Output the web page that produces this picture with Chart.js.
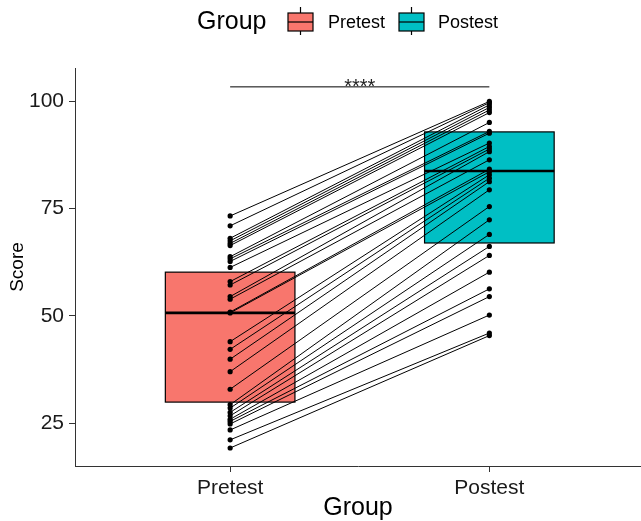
<!DOCTYPE html>
<html>
<head>
<meta charset="utf-8">
<script src="https://cdn.jsdelivr.net/npm/chart.js@4/dist/chart.umd.min.js"></script>
<style>
  body { margin: 0; background: #fff; }
</style>
</head>
<body>
<canvas id="paired" width="641" height="521"></canvas>
<script>
const groups = ['Pretest', 'Postest'];
const groupColors = ['#F8766D', '#00BFC4'];

// paired scores, one entry per subject
const pretest = [73.3, 71.0, 68.1, 67.5, 66.9, 66.4, 63.8, 63.3, 62.7, 61.3, 58.0, 57.2, 54.5, 53.9, 50.9, 50.7,
  44.0, 42.2, 39.9, 37.0, 32.9, 29.3, 28.5, 27.5, 26.7, 25.9, 25.4, 24.8, 23.4, 21.1, 19.2];
const postest = [100.0, 99.7, 99.2, 98.6, 98.0, 97.4, 95.1, 93.0, 92.6, 90.3, 89.5, 88.9, 88.3, 86.4, 84.2, 83.6,
  82.9, 82.1, 81.3, 79.4, 75.5, 72.4, 69.0, 66.2, 64.1, 60.2, 56.3, 54.5, 50.2, 46.0, 45.4];

// box extents as drawn
const boxLower = [29.9, 67.0];
const boxMedian = [50.7, 83.8];
const boxUpper = [60.2, 92.9];

const yTicks = [25, 50, 75, 100];
const sigLabel = '****';
const sigLevel = 103.4;

const font = "'Liberation Sans', Arial, sans-serif";

const pairSets = pretest.map((v, i) => ({
  data: [{x: 1, y: v}, {x: 2, y: postest[i]}],
  borderColor: '#000',
  backgroundColor: '#000',
  borderWidth: 1,
  pointRadius: 2.6,
  pointBorderWidth: 0,
  clip: false
}));

const boxPlugin = {
  id: 'boxes',
  beforeDatasetsDraw(chart) {
    const {ctx, scales: {x, y}} = chart;
    ctx.save();
    groups.forEach((g, i) => {
      const cx = x.getPixelForValue(i + 1);
      const half = x.getPixelForValue(i + 1.25) - cx;
      const top = y.getPixelForValue(boxUpper[i]);
      const bot = y.getPixelForValue(boxLower[i]);
      ctx.fillStyle = groupColors[i];
      ctx.fillRect(cx - half, top, half * 2, bot - top);
      ctx.strokeStyle = '#000';
      ctx.lineWidth = 1.2;
      ctx.strokeRect(cx - half, top, half * 2, bot - top);
      const m = y.getPixelForValue(boxMedian[i]);
      ctx.lineWidth = 2.6;
      ctx.beginPath();
      ctx.moveTo(cx - half, m);
      ctx.lineTo(cx + half, m);
      ctx.stroke();
    });
    ctx.restore();
  },
  afterDatasetsDraw(chart) {
    const {ctx, scales: {x, y}} = chart;
    const yy = y.getPixelForValue(sigLevel);
    const x1 = x.getPixelForValue(1), x2 = x.getPixelForValue(2);
    ctx.save();
    ctx.strokeStyle = '#000';
    ctx.lineWidth = 1;
    ctx.beginPath();
    ctx.moveTo(x1, yy);
    ctx.lineTo(x2, yy);
    ctx.stroke();
    ctx.fillStyle = '#222';
    ctx.font = '20px ' + font;
    ctx.textAlign = 'center';
    ctx.textBaseline = 'alphabetic';
    ctx.fillText(sigLabel, (x1 + x2) / 2, yy + 6);
    ctx.restore();
  }
};

const legendPlugin = {
  id: 'groupLegend',
  afterDraw(chart) {
    const ctx = chart.ctx;
    ctx.save();
    ctx.fillStyle = '#000';
    ctx.textBaseline = 'middle';
    ctx.textAlign = 'left';
    ctx.font = '25px ' + font;
    ctx.fillText('Group', 197, 22);
    const items = [{x: 288, tx: 328}, {x: 399, tx: 438}];
    items.forEach((it, i) => {
      ctx.strokeStyle = '#000';
      ctx.lineWidth = 1.2;
      ctx.beginPath();
      ctx.moveTo(it.x + 12.5, 7);
      ctx.lineTo(it.x + 12.5, 35);
      ctx.stroke();
      ctx.fillStyle = groupColors[i];
      ctx.fillRect(it.x, 13, 25, 18);
      ctx.strokeRect(it.x, 13, 25, 18);
      ctx.beginPath();
      ctx.moveTo(it.x, 22);
      ctx.lineTo(it.x + 25, 22);
      ctx.stroke();
      ctx.fillStyle = '#000';
      ctx.font = '18px ' + font;
      ctx.fillText(groups[i], it.tx, 23);
    });
    ctx.restore();
  }
};

new Chart('paired', {
  type: 'line',
  data: { datasets: pairSets },
  options: {
    responsive: false,
    animation: false,
    layout: { autoPadding: false, padding: { top: 68, right: 0, left: 0, bottom: 0 } },
    plugins: {
      legend: { display: false },
      tooltip: { enabled: false }
    },
    scales: {
      x: {
        type: 'linear',
        min: 0.4015,
        max: 2.585,
        afterBuildTicks: s => { s.ticks = [{value: 1}, {value: 2}]; },
        afterFit: s => { s.height = 55; },
        ticks: {
          callback: v => groups[v - 1],
          color: '#1a1a1a',
          font: { family: font, size: 21 },
          padding: 4
        },
        grid: { drawOnChartArea: false, tickLength: 6, color: '#333' },
        border: { color: '#333', width: 1 },
        title: {
          display: true,
          text: 'Group',
          color: '#000',
          font: { family: font, size: 25 },
          padding: { top: 0, bottom: -2 }
        }
      },
      y: {
        min: 15,
        max: 107.8,
        afterBuildTicks: s => { s.ticks = yTicks.map(v => ({value: v})); },
        afterFit: s => { s.width = 75; },
        ticks: {
          color: '#1a1a1a',
          font: { family: font, size: 21 },
          padding: 5
        },
        grid: { drawOnChartArea: false, tickLength: 6, color: '#333' },
        border: { color: '#333', width: 1 },
        title: {
          display: true,
          text: 'Score',
          color: '#000',
          font: { family: font, size: 19 },
          padding: { top: 6, bottom: 0 }
        }
      }
    }
  },
  plugins: [boxPlugin, legendPlugin]
});
</script>
</body>
</html>
